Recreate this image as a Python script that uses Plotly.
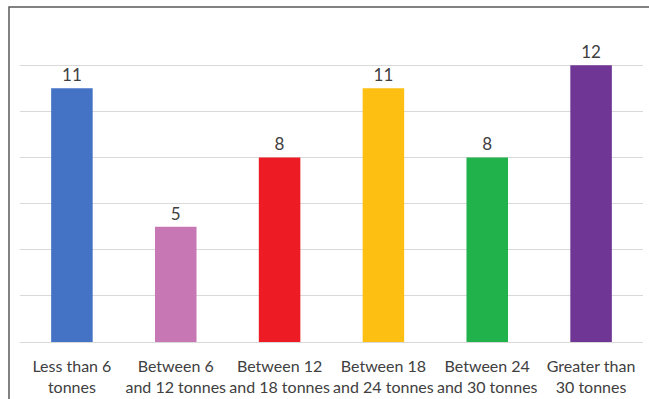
import plotly.graph_objects as go

categories = ["Less than 6 tonnes", "Between 6 and 12 tonnes", "Between 12 and 18 tonnes",
              "Between 18 and 24 tonnes", "Between 24 and 30 tonnes", "Greater than 30 tonnes"]
tick_labels = ["Less than 6<br>tonnes", "Between 6<br>and 12 tonnes", "Between 12<br>and 18 tonnes",
               "Between 18<br>and 24 tonnes", "Between 24<br>and 30 tonnes", "Greater than<br>30 tonnes"]
values = [11, 5, 8, 11, 8, 12]
colors = ["#4472C4", "#C777B3", "#ED1C24", "#FDBF12", "#21B24B", "#6F3695"]

W, H = 649, 399
ml, mr, mt, mb = 20, 6, 19, 57

fig = go.Figure(go.Bar(
    x=categories, y=values, marker_color=colors, marker_line_width=0,
    text=[str(v) for v in values], textposition="outside", cliponaxis=False,
    textfont=dict(size=17, color="#404040", family="Lato"),
))

pw = W - ml - mr
ph = H - mt - mb
fig.add_shape(type="rect", xref="paper", yref="paper",
              x0=(9 - ml) / pw, x1=(W + 20 - ml) / pw,
              y0=-0.5, y1=(H - mb - 7) / ph,
              line=dict(color="#595959", width=1.5), fillcolor="rgba(0,0,0,0)", layer="above")

fig.update_layout(
    width=W, height=H, margin=dict(l=ml, r=mr, t=mt, b=mb, autoexpand=False),
    paper_bgcolor="white", plot_bgcolor="white", bargap=0.6, showlegend=False,
    font=dict(family="Lato", size=16, color="#404040"),
    xaxis=dict(tickmode="array", tickvals=categories, ticktext=tick_labels, automargin=False,
               showgrid=False, showline=True, linecolor="#D9D9D9", linewidth=1,
               tickfont=dict(size=16, color="#404040"), ticks="", ticklabelstandoff=10),
    yaxis=dict(range=[0, 14], dtick=2, showgrid=True, gridcolor="#D9D9D9", gridwidth=1,
               showticklabels=False, zeroline=False, showline=False, ticks="", automargin=False),
)
fig.write_html("out.html")
